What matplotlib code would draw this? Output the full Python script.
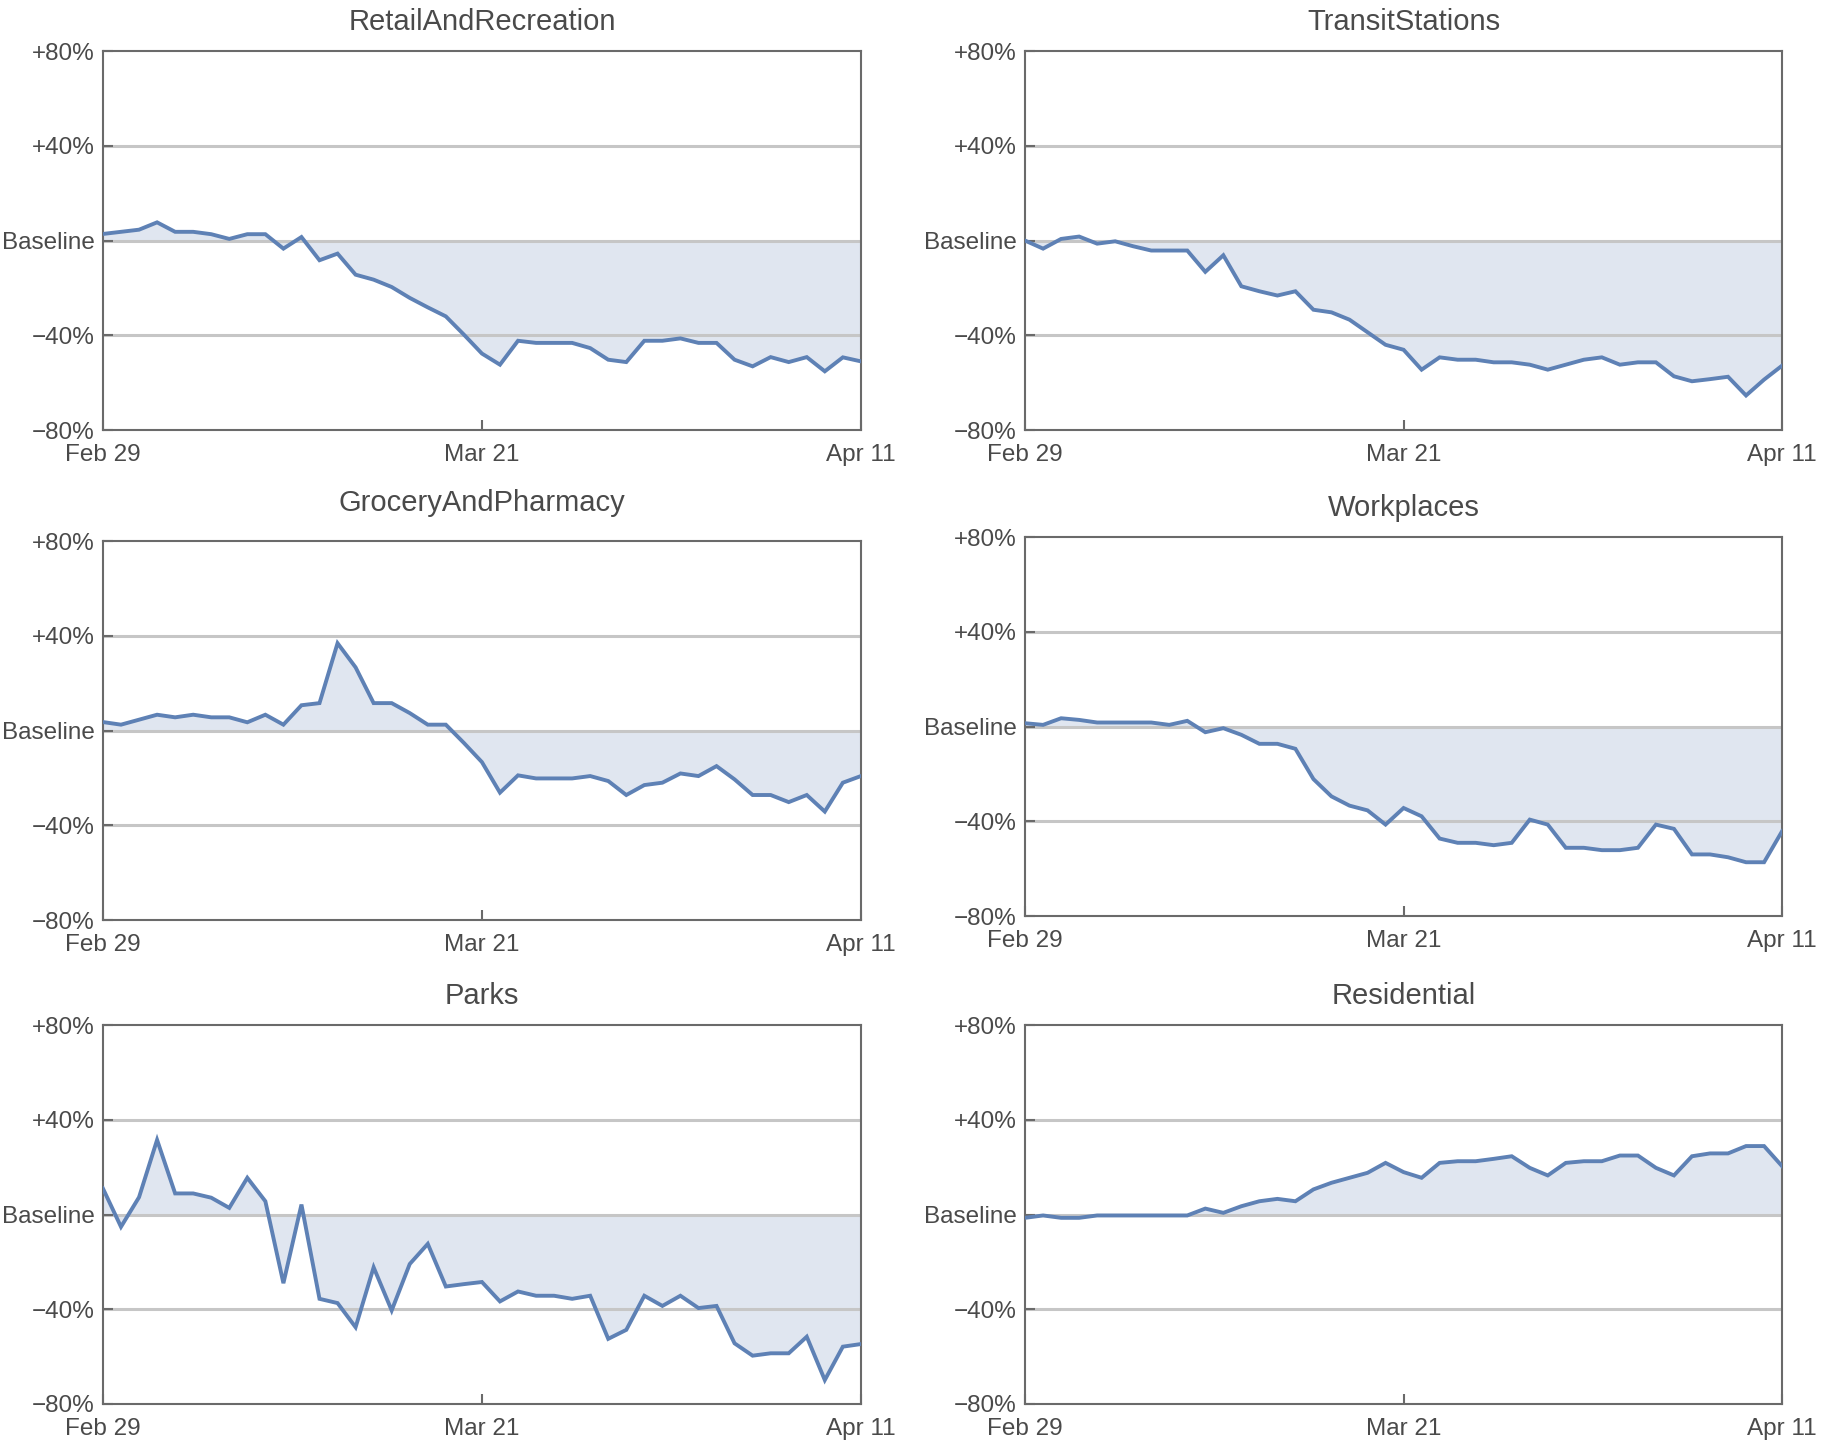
import numpy as np
import pandas as pd
import matplotlib
matplotlib.use('Agg')
import matplotlib.pyplot as plt

plt.rcParams['font.family'] = ['Liberation Sans', 'DejaVu Sans']

# Feb 29 .. Apr 11 2020, daily change from baseline in percent
dates = pd.date_range('2020-02-29', '2020-04-11', freq='D')

retail = [2.8, 3.7, 4.6, 7.7, 3.7, 3.7, 2.7, 0.7, 2.7, 2.7, -3.4, 1.5, -8.3, -5.5,
          -14.4, -16.5, -19.6, -24.2, -28.2, -32.0, -39.7, -47.7, -52.4, -42.3, -43.2,
          -43.2, -43.2, -45.4, -50.3, -51.3, -42.3, -42.3, -41.3, -43.2, -43.2, -50.3,
          -53.1, -49.2, -51.3, -49.2, -55.2, -49.3, -51.0]
transit = [0.0, -3.4, 0.7, 1.7, -1.3, -0.3, -2.4, -4.2, -4.2, -4.2, -13.2, -6.2, -19.3,
           -21.4, -23.2, -21.4, -29.2, -30.3, -33.4, -38.7, -44.0, -46.1, -54.5, -49.3,
           -50.3, -50.3, -51.4, -51.4, -52.4, -54.5, -52.4, -50.3, -49.3, -52.4, -51.4,
           -51.4, -57.3, -59.4, -58.5, -57.5, -65.4, -58.7, -52.8]
grocery = [3.6, 2.5, 4.6, 6.7, 5.6, 6.7, 5.6, 5.6, 3.5, 6.7, 2.5, 10.7, 11.6, 36.9,
           26.7, 11.6, 11.6, 7.4, 2.5, 2.5, -5.2, -13.3, -26.2, -18.9, -20.2, -20.2,
           -20.2, -19.2, -21.3, -27.2, -23.0, -22.0, -18.1, -19.2, -15.0, -20.6, -27.2,
           -27.2, -30.2, -27.2, -34.2, -22.0, -19.2]
workplaces = [1.4, 0.7, 3.5, 2.8, 1.7, 1.7, 1.7, 1.7, 0.7, 2.4, -2.4, -0.7, -3.5, -7.3,
              -7.3, -9.4, -22.2, -29.5, -33.4, -35.4, -41.4, -34.4, -37.9, -47.3, -49.1,
              -49.1, -50.1, -49.1, -39.3, -41.4, -51.2, -51.2, -52.2, -52.2, -51.2, -41.4,
              -43.2, -54.0, -54.0, -55.2, -57.3, -57.3, -44.2]
parks = [11.0, -5.2, 7.3, 31.5, 8.9, 8.9, 7.1, 2.8, 15.5, 5.6, -29.0, 4.2, -35.6, -37.4,
         -47.6, -22.3, -40.5, -20.9, -12.4, -30.4, -29.4, -28.5, -36.7, -32.5, -34.3,
         -34.3, -35.6, -34.3, -52.5, -48.7, -34.3, -38.6, -34.3, -39.5, -38.6, -54.4,
         -59.6, -58.6, -58.6, -51.6, -69.9, -55.8, -54.7]
residential = [-1.4, -0.4, -1.4, -1.4, -0.4, -0.4, -0.4, -0.4, -0.4, -0.4, 2.5, 0.7, 3.5,
               5.6, 6.6, 5.6, 10.6, 13.4, 15.5, 17.6, 21.8, 17.9, 15.5, 21.8, 22.5, 22.5,
               23.5, 24.6, 19.7, 16.5, 21.8, 22.5, 22.5, 24.9, 24.9, 19.7, 16.5, 24.6,
               25.8, 25.8, 28.9, 28.9, 20.4]

titles = ['RetailAndRecreation', 'TransitStations', 'GroceryAndPharmacy',
          'Workplaces', 'Parks', 'Residential']
series = [retail, transit, grocery, workplaces, parks, residential]

y_ticks = [-80, -40, 0, 40, 80]
y_labels = ['\u221280%', '\u221240%', 'Baseline', '+40%', '+80%']
x_tick_dates = [dates[0], dates[21], dates[-1]]
x_labels = ['Feb 29', 'Mar 21', 'Apr 11']

line_color = '#5E81B5'
fill_color = '#DBE2EE'
grid_color = '#C6C6C6'
frame_color = '#6A6A6A'
text_color = '#4A4A4A'

# axes boxes in figure fractions [left, bottom, width, height]
boxes = [
    [0.0565, 0.703, 0.416, 0.2617],
    [0.5626, 0.703, 0.4155, 0.2617],
    [0.0565, 0.3646, 0.416, 0.2617],
    [0.5626, 0.3674, 0.4155, 0.2617],
    [0.0565, 0.0304, 0.416, 0.2617],
    [0.5626, 0.0304, 0.4155, 0.2617],
]
title_pads = [15, 15, 22, 15, 15, 15]

fig = plt.figure(figsize=(18.22, 14.48), dpi=100)

for box, title, vals, tpad in zip(boxes, titles, series, title_pads):
    ax = fig.add_axes(box)
    vals = np.array(vals)

    for yv in [-40, 0, 40]:
        ax.axhline(yv, color=grid_color, lw=2.2, zorder=1)
    ax.fill_between(dates, vals, 0, color=fill_color, alpha=0.85, lw=0, zorder=0.5)
    ax.plot(dates, vals, color=line_color, lw=2.8, zorder=3,
            solid_joinstyle='miter')

    ax.set_xlim(dates[0], dates[-1])
    ax.set_ylim(-80, 80)
    ax.set_yticks(y_ticks)
    ax.set_yticklabels(y_labels)
    ax.set_xticks(x_tick_dates)
    ax.set_xticklabels(x_labels)

    ax.tick_params(axis='both', direction='in', length=7, width=1.5,
                   color=frame_color, labelcolor=text_color, labelsize=17.5)
    ax.tick_params(axis='x', pad=10)
    ax.tick_params(axis='y', pad=6)
    for sp in ax.spines.values():
        sp.set_color(frame_color)
        sp.set_linewidth(1.5)

    ax.set_title(title, fontsize=21, color=text_color, pad=tpad)

fig.savefig('out.png', dpi=100)
